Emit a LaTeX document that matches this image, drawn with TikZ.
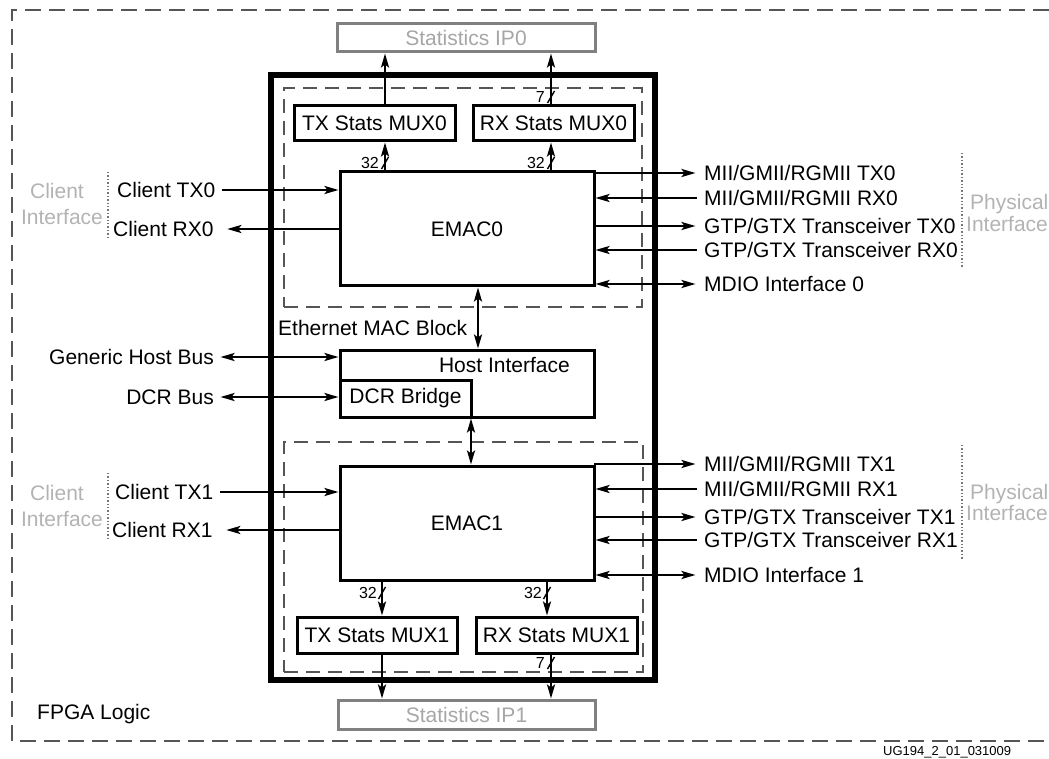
\documentclass[tikz,border=0pt]{standalone}
\usepackage{fontspec}
\setmainfont{Liberation Sans}
\usetikzlibrary{arrows.meta}
\definecolor{dashgray}{HTML}{555555}
\definecolor{ipgray}{HTML}{808080}
\definecolor{iptext}{HTML}{A6A6A6}
\definecolor{ifgray}{HTML}{B3B3B3}
\definecolor{dotgray}{HTML}{777777}
\begin{document}
\begin{tikzpicture}[x=1pt,y=-1pt,
  fnt/.style={font=\fontsize{21}{24}\selectfont},
  lbl/.style={fnt, inner sep=0pt, text height=15pt, text depth=0pt},
  faint/.style={lbl, text=ifgray},
  blk/.style={draw, line width=3pt, inner sep=0pt, outer sep=0pt, fnt},
  ipbox/.style={draw=ipgray, line width=3pt, inner sep=0pt, outer sep=0pt, text=iptext, fnt},
  region/.style={draw=dashgray, line width=1.7pt, dash pattern=on 14pt off 8pt, inner sep=0pt, outer sep=0pt},
  tipa/.tip={Stealth[length=14pt,width=8pt,inset=3pt]},
  arr/.style={line width=2.3pt, -tipa, shorten >=1.5pt},
  darr/.style={line width=2.3pt, tipa-tipa, shorten >=1.5pt, shorten <=1.5pt},
  busw/.pic={\draw[line width=1.4pt] (-3.5,6) -- (3.5,-6);},
  wlbl/.style={font=\fontsize{16}{18}\selectfont, inner sep=0pt, anchor=east, text height=11.5pt, text depth=0pt},
  dots/.style={draw=dotgray, line width=1.4pt, dotted}
]
\useasboundingbox (0,0) rectangle (1049,759);

% outer FPGA frame
\coordinate (f1) at (1049,10);
\coordinate (f2) at (12,10);
\coordinate (f3) at (12,741);
\coordinate (f4) at (1049,741);
\draw[dashgray, line width=1.7pt, dash pattern=on 16pt off 8pt] (f1) -- (f2) -- (f3) -- (f4);

% Ethernet MAC block
\node[draw, line width=5.5pt, inner sep=0pt, minimum width=384pt, minimum height=605pt] (mac) at (463,377.5) {};
\node[region, minimum width=358pt, minimum height=219pt] (reg0) at (463,197.5) {};
\node[region, minimum width=359pt, minimum height=230pt] (reg1) at (463.5,557) {};

% boxes
\node[ipbox, minimum width=258pt, minimum height=28pt] (ip0) at (466,38) {Statistics IP0};
\node[ipbox, minimum width=257pt, minimum height=29pt] (ip1) at (466.5,714.5) {Statistics IP1};
\node[blk, minimum width=161pt, minimum height=35pt] (txm0) at (374.5,123.5) {TX Stats MUX0};
\node[blk, minimum width=161pt, minimum height=35pt] (rxm0) at (553.5,123.5) {RX Stats MUX0};
\node[blk, minimum width=254pt, minimum height=114pt] (emac0) at (467,229) {EMAC0};
\node[blk, minimum width=254pt, minimum height=67pt] (host) at (467,383.5) {};
\node[blk, minimum width=131pt, minimum height=37pt] (dcr) at (405.5,398.5) {DCR Bridge};
\node[blk, minimum width=254pt, minimum height=114pt] (emac1) at (467,523) {EMAC1};
\node[blk, minimum width=160pt, minimum height=36pt] (txm1) at (377,635) {TX Stats MUX1};
\node[blk, minimum width=161pt, minimum height=36pt] (rxm1) at (556.5,635) {RX Stats MUX1};

\node[lbl, anchor=east] (hostl) at (570,365) {Host Interface};
\node[lbl, anchor=west] (macl) at (278,328) {Ethernet MAC Block};
\node[lbl, anchor=west] (fpga) at (37,712) {FPGA Logic};
\node[font=\fontsize{13}{15}\selectfont, inner sep=0pt, anchor=base west] (fig) at (883,755.5) {UG194\_2\_01\_031009};

% vertical connectors
\coordinate (a385) at (385,0);
\coordinate (a551) at (551,0);
\coordinate (a382) at (382,0);
\coordinate (a547) at (547,0);
\coordinate (a478) at (478,0);
\draw[arr] (emac0.north -| a385) -- (txm0.south -| a385);
\draw[arr] (txm0.north -| a385) -- (ip0.south -| a385);
\draw[arr] (emac0.north -| a551) -- (rxm0.south -| a551);
\draw[arr] (rxm0.north -| a551) -- (ip0.south -| a551);
\draw[arr] (emac1.south -| a382) -- (txm1.north -| a382);
\draw[arr] (txm1.south -| a382) -- (ip1.north -| a382);
\draw[arr] (emac1.south -| a547) -- (rxm1.north -| a547);
\draw[arr] (rxm1.south -| a551) -- (ip1.north -| a551);
\draw[darr] (emac0.south -| a478) -- (host.north -| a478);
\draw[darr] (dcr.south east) -- (emac1.north -| dcr.south east);

% bus widths
\pic at (385,163) {busw};
\node[wlbl] (w1) at (379,163) {32};
\pic at (551,163) {busw};
\node[wlbl] (w2) at (545,163) {32};
\pic at (551,97) {busw};
\node[wlbl] (w3) at (545,97) {7};
\pic at (382,593) {busw};
\node[wlbl] (w4) at (377,593) {32};
\pic at (547,593) {busw};
\node[wlbl] (w5) at (542,593) {32};
\pic at (551,663) {busw};
\node[wlbl] (w6) at (545,663) {7};

% client side EMAC0
\node[lbl, anchor=west] (ctx0) at (117,190) {Client TX0};
\node[lbl, anchor=west] (crx0) at (113,229) {Client RX0};
\draw[arr] ([xshift=7pt]ctx0.east) -- (emac0.west |- ctx0);
\draw[arr] (emac0.west |- crx0) -- ([xshift=12pt]crx0.east);
\node[faint] (ci0a) at (57,191) {Client};
\node[faint] (ci0b) at (62,217) {Interface};
\coordinate (d0a) at (108,172);
\coordinate (d0b) at (108,237);
\draw[dots] (d0a) -- (d0b);

% client side EMAC1
\node[lbl, anchor=west] (ctx1) at (115,492) {Client TX1};
\node[lbl, anchor=west] (crx1) at (112,530) {Client RX1};
\draw[arr] ([xshift=7pt]ctx1.east) -- (emac1.west |- ctx1);
\draw[arr] (emac1.west |- crx1) -- ([xshift=12pt]crx1.east);
\node[faint] (ci1a) at (57,493) {Client};
\node[faint] (ci1b) at (62,519) {Interface};
\coordinate (d1a) at (108,473);
\coordinate (d1b) at (108,540);
\draw[dots] (d1a) -- (d1b);

% host buses
\node[lbl, anchor=east] (ghb) at (214,357) {Generic Host Bus};
\node[lbl, anchor=east] (dcrb) at (214,397) {DCR Bus};
\draw[darr] ([xshift=5pt]ghb.east) -- (host.west |- ghb);
\draw[darr] ([xshift=5pt]dcrb.east) -- (dcr.west |- dcrb);

% physical side EMAC0
\node[lbl, anchor=west] (m0t) at (704,173) {MII/GMII/RGMII TX0};
\node[lbl, anchor=west] (m0r) at (704,198) {MII/GMII/RGMII RX0};
\node[lbl, anchor=west] (g0t) at (704,226) {GTP/GTX Transceiver TX0};
\node[lbl, anchor=west] (g0r) at (704,250) {GTP/GTX Transceiver RX0};
\node[lbl, anchor=west] (md0) at (704,284) {MDIO Interface 0};
\draw[arr] (emac0.east |- m0t) -- ([xshift=-7pt]m0t.west);
\draw[arr] ([xshift=-7pt]m0r.west) -- (emac0.east |- m0r);
\draw[arr] (emac0.east |- g0t) -- ([xshift=-7pt]g0t.west);
\draw[arr] ([xshift=-7pt]g0r.west) -- (emac0.east |- g0r);
\draw[darr] (emac0.east |- md0) -- ([xshift=-7pt]md0.west);
\node[faint, anchor=west] (pi0a) at (970,202) {Physical};
\node[faint, anchor=west] (pi0b) at (966,224) {Interface};
\coordinate (p0a) at (962,153);
\coordinate (p0b) at (962,267);
\draw[dots] (p0a) -- (p0b);

% physical side EMAC1
\node[lbl, anchor=west] (m1t) at (704,464) {MII/GMII/RGMII TX1};
\node[lbl, anchor=west] (m1r) at (704,489) {MII/GMII/RGMII RX1};
\node[lbl, anchor=west] (g1t) at (704,517) {GTP/GTX Transceiver TX1};
\node[lbl, anchor=west] (g1r) at (704,540) {GTP/GTX Transceiver RX1};
\node[lbl, anchor=west] (md1) at (704,575) {MDIO Interface 1};
\draw[arr] (emac1.east |- m1t) -- ([xshift=-7pt]m1t.west);
\draw[arr] ([xshift=-7pt]m1r.west) -- (emac1.east |- m1r);
\draw[arr] (emac1.east |- g1t) -- ([xshift=-7pt]g1t.west);
\draw[arr] ([xshift=-7pt]g1r.west) -- (emac1.east |- g1r);
\draw[darr] (emac1.east |- md1) -- ([xshift=-7pt]md1.west);
\node[faint, anchor=west] (pi1a) at (970,492) {Physical};
\node[faint, anchor=west] (pi1b) at (966,513) {Interface};
\coordinate (p1a) at (962,445);
\coordinate (p1b) at (962,560);
\draw[dots] (p1a) -- (p1b);
\end{tikzpicture}
\end{document}
